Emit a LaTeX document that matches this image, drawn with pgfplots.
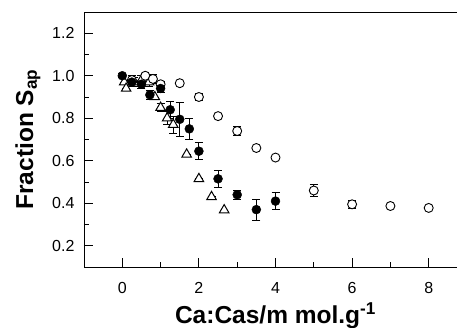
\documentclass[border=0pt]{standalone}
\usepackage{pgfplots}
\pgfplotsset{compat=1.18}
\usepackage{fontspec}
\setmainfont{Liberation Sans}
\begin{document}
\begin{tikzpicture}
\begin{axis}[
  scale only axis, width=383pt, height=255pt,
  at={(0,0)}, anchor=south west,
  xmin=-1, xmax=9, ymin=0.1, ymax=1.3,
  xtick={0,2,4,6,8}, minor xtick={1,3,5,7},
  ytick={0.2,0.4,0.6,0.8,1.0,1.2}, minor ytick={0.3,0.5,0.7,0.9,1.1},
  xtick pos=bottom, ytick pos=both,
  tick align=inside,
  major tick length=9pt, minor tick length=5pt,
  axis line style={line width=0.9pt}, every tick/.style={line width=0.9pt,black},
  /pgf/number format/assume math mode=true,
  yticklabel style={/pgf/number format/fixed, /pgf/number format/zerofill, /pgf/number format/precision=1},
  ticklabel style={font=\fontsize{16}{18}\selectfont},
  xticklabel style={yshift=-12pt},
  yticklabel style={xshift=-6pt},
  xlabel={\bfseries Ca:Cas/m mol.g\textsuperscript{-1}},
  ylabel={\bfseries Fraction S\textsubscript{ap}},
  label style={font=\fontsize{24.5}{26}\selectfont},
  xlabel style={yshift=-2pt},
  ylabel style={yshift=5pt},
  error bars/error bar style={line width=0.9pt},
  error bars/error mark options={rotate=90, mark size=4pt, line width=0.9pt},
]
% triangles
\addplot[only marks, mark=triangle*, mark size=5.5pt, line width=1pt, black,
  mark options={fill=white},
  error bars/.cd, y dir=both, y explicit]
  table[x=x, y=y, y error=e] {
x y e
0.05 0.97 0
0.1 0.94 0
0.3 0.97 0.02
0.5 0.98 0.02
0.7 0.97 0.02
0.85 0.90 0
1.0 0.85 0.02
1.17 0.80 0.03
1.33 0.77 0.04
1.68 0.63 0
2.0 0.515 0
2.33 0.43 0
2.66 0.368 0
};
% open circles
\addplot[only marks, mark=*, mark size=4.5pt, line width=0.9pt, black,
  mark options={fill=white},
  error bars/.cd, y dir=both, y explicit]
  table[x=x, y=y, y error=e] {
x y e
0.25 0.98 0.02
0.6 1.0 0.01
0.8 0.985 0.02
1.0 0.96 0.015
1.5 0.965 0
2.0 0.90 0.015
2.5 0.81 0
3.0 0.74 0.02
3.5 0.66 0
4.0 0.615 0
5.0 0.46 0.03
6.0 0.395 0.02
7.0 0.387 0
8.0 0.378 0
};
% filled circles
\addplot[only marks, mark=*, mark size=4.5pt, black,
  error bars/.cd, y dir=both, y explicit]
  table[x=x, y=y, y error=e] {
x y e
0 1.0 0.01
0.25 0.97 0.02
0.5 0.96 0.02
0.72 0.91 0.02
1.0 0.94 0.02
1.25 0.84 0.04
1.5 0.795 0.08
1.75 0.75 0.05
2.0 0.645 0.04
2.5 0.515 0.04
3.0 0.44 0.02
3.5 0.37 0.05
4.0 0.41 0.04
};
\end{axis}
\pgfresetboundingbox
\path (-84pt,-61pt) rectangle (373pt,267pt);
\end{tikzpicture}
\end{document}
